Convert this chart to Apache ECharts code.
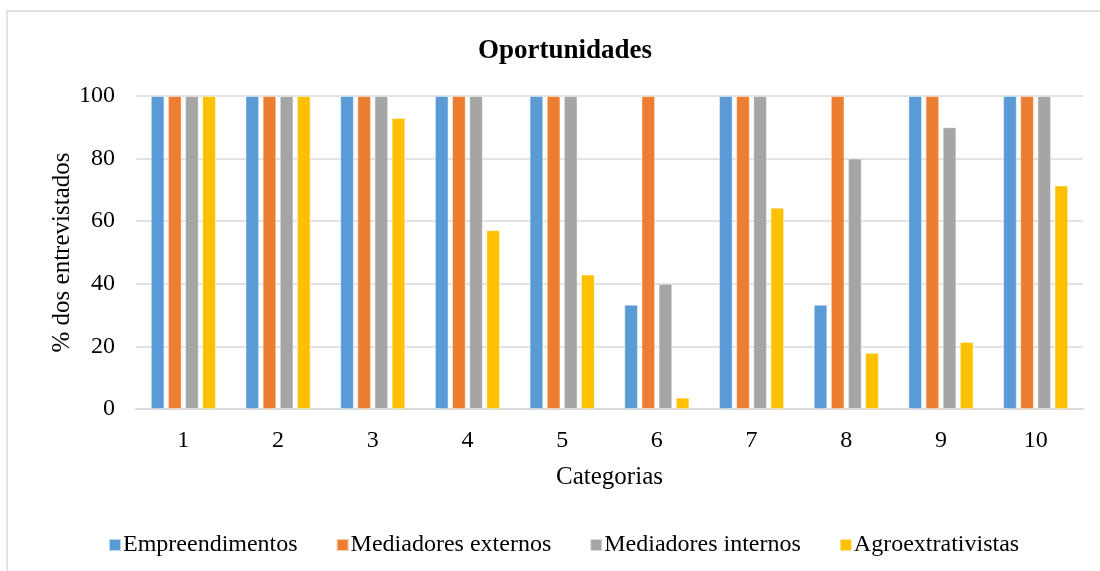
<!DOCTYPE html>
<html>
<head>
<meta charset="utf-8">
<script src="https://cdn.jsdelivr.net/npm/echarts@6/dist/echarts.min.js"></script>
<style>
  html, body { margin: 0; padding: 0; background: #fff; }
  #chart { width: 1100px; height: 571px; }
</style>
</head>
<body>
<div id="chart"></div>
<script>
// dados
var categorias = ['1', '2', '3', '4', '5', '6', '7', '8', '9', '10'];
var empreendimentos = [100, 100, 100, 100, 100, 33.3, 100, 33.3, 100, 100];
var mediadoresExternos = [100, 100, 100, 100, 100, 100, 100, 100, 100, 100];
var mediadoresInternos = [100, 100, 100, 100, 100, 40, 100, 80, 90, 100];
var agroextrativistas = [100, 100, 92.9, 57.1, 42.9, 3.6, 64.3, 17.9, 21.4, 71.4];
var yTicks = [0, 20, 40, 60, 80, 100];

var fonte = '"Liberation Serif", "Times New Roman", serif';

function serie(nome, dados, cor) {
    return {
        name: nome,
        type: 'bar',
        data: dados,
        barWidth: 13.5,
        barGap: '27%',
        itemStyle: { color: cor, borderColor: 'rgba(255,255,255,0.6)', borderWidth: 0.8 }
    };
}

var myChart = echarts.init(document.getElementById('chart'));
myChart.setOption({
    animation: false,
    graphic: [{
        type: 'rect',
        shape: { x: 7, y: 11, width: 1200, height: 700 },
        style: { fill: 'none', stroke: '#d9d9d9', lineWidth: 1.5 },
        silent: true
    }],
    title: {
        text: 'Oportunidades',
        left: 560,
        top: 33,
        textAlign: 'center',
        textStyle: { fontFamily: fonte, fontSize: 27, fontWeight: 'bold', color: '#000' }
    },
    legend: {
        bottom: 9,
        left: 103,
        itemWidth: 12,
        itemHeight: 12,
        itemGap: 38,
        icon: 'rect',
        textStyle: { fontFamily: fonte, fontSize: 24, color: '#000', padding: [0, 0, 0, -3] },
        data: ['Empreendimentos', 'Mediadores externos', 'Mediadores internos', 'Agroextrativistas']
    },
    grid: { left: 136, right: 17, top: 96, bottom: 162 },
    xAxis: {
        type: 'category',
        data: categorias,
        name: 'Categorias',
        nameLocation: 'middle',
        nameGap: 56,
        nameMoveOverlap: false,
        nameTextStyle: { fontFamily: fonte, fontSize: 25, color: '#000' },
        axisLine: { lineStyle: { color: '#d9d9d9', width: 2 } },
        axisTick: { show: false },
        axisLabel: { fontFamily: fonte, fontSize: 24, color: '#000', margin: 20 }
    },
    yAxis: {
        type: 'value',
        min: yTicks[0],
        max: yTicks[yTicks.length - 1],
        interval: 20,
        name: '% dos entrevistados',
        nameLocation: 'middle',
        nameRotate: 90,
        nameGap: 61,
        nameMoveOverlap: false,
        nameTextStyle: { fontFamily: fonte, fontSize: 25, color: '#000' },
        axisLine: { show: false },
        axisTick: { show: false },
        splitLine: { lineStyle: { color: '#d9d9d9', width: 1.5 } },
        axisLabel: { fontFamily: fonte, fontSize: 24, color: '#000', margin: 21 }
    },
    series: [
        serie('Empreendimentos', empreendimentos, '#5b9bd5'),
        serie('Mediadores externos', mediadoresExternos, '#ed7d31'),
        serie('Mediadores internos', mediadoresInternos, '#a5a5a5'),
        serie('Agroextrativistas', agroextrativistas, '#ffc000')
    ]
});
</script>
</body>
</html>
